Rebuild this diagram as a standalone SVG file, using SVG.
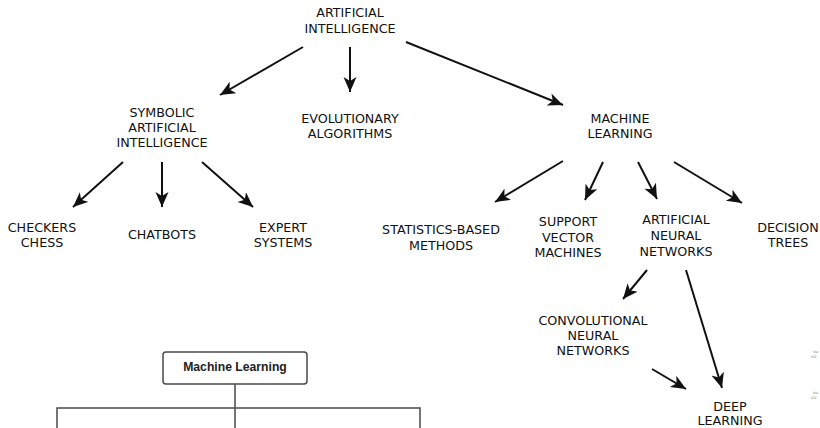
<svg xmlns="http://www.w3.org/2000/svg" width="820" height="428" viewBox="0 0 820 428">
  <style>
    .lbl { font-family: "DejaVu Sans", "Liberation Sans", sans-serif; font-size: 12.7px; fill: #111; text-anchor: middle; }
    .edge { stroke: #111; stroke-width: 2; fill: none; marker-end: url(#head); }
    .box { fill: #fff; stroke: #4a4a4a; stroke-width: 1.5; }
    .tree { stroke: #4a4a4a; stroke-width: 1.5; fill: none; }
    .boxtxt { font-family: "Liberation Sans", Arial, sans-serif; font-size: 12.2px; font-weight: bold; fill: #222; text-anchor: middle; }
    .tiny { font-family: "DejaVu Sans", sans-serif; font-size: 4px; fill: #888; }
  </style>
  <defs>
    <marker id="head" markerUnits="userSpaceOnUse" markerWidth="16" markerHeight="14" refX="15" refY="6.5" orient="auto">
      <path d="M0,0 L15,6.5 L0,13 L4,6.5 z" fill="#111"/>
    </marker>
  </defs>
  <rect width="820" height="428" fill="#fff"/>

  <g id="connectors">
    <line class="edge" x1="303" y1="47" x2="220" y2="95"/>
    <line class="edge" x1="350" y1="47" x2="350" y2="92"/>
    <line class="edge" x1="406" y1="42" x2="563" y2="105"/>
    <line class="edge" x1="123" y1="162" x2="73" y2="207"/>
    <line class="edge" x1="162" y1="162" x2="162" y2="207"/>
    <line class="edge" x1="202" y1="162" x2="253" y2="207"/>
    <line class="edge" x1="563" y1="161" x2="495" y2="202"/>
    <line class="edge" x1="603" y1="162" x2="585" y2="200"/>
    <line class="edge" x1="638" y1="162" x2="657" y2="199"/>
    <line class="edge" x1="674" y1="162" x2="742" y2="203"/>
    <line class="edge" x1="647" y1="270" x2="623" y2="299"/>
    <line class="edge" x1="686" y1="270" x2="722" y2="388"/>
    <line class="edge" x1="652" y1="369" x2="686" y2="389"/>
  </g>

  <g id="ai"><text class="lbl" x="350" y="17">ARTIFICIAL</text><text class="lbl" x="350" y="33">INTELLIGENCE</text></g>
  <g id="symbolic"><text class="lbl" x="162" y="117">SYMBOLIC</text><text class="lbl" x="162" y="132">ARTIFICIAL</text><text class="lbl" x="162" y="147">INTELLIGENCE</text></g>
  <g id="evolutionary"><text class="lbl" x="350" y="123">EVOLUTIONARY</text><text class="lbl" x="350" y="138">ALGORITHMS</text></g>
  <g id="ml"><text class="lbl" x="620" y="123">MACHINE</text><text class="lbl" x="620" y="138">LEARNING</text></g>
  <g id="checkers"><text class="lbl" x="42" y="232">CHECKERS</text><text class="lbl" x="42" y="247">CHESS</text></g>
  <g id="chatbots"><text class="lbl" x="162" y="239">CHATBOTS</text></g>
  <g id="expert"><text class="lbl" x="283" y="232">EXPERT</text><text class="lbl" x="283" y="247">SYSTEMS</text></g>
  <g id="stats"><text class="lbl" x="441" y="234">STATISTICS-BASED</text><text class="lbl" x="441" y="250">METHODS</text></g>
  <g id="svm"><text class="lbl" x="568" y="226">SUPPORT</text><text class="lbl" x="568" y="242">VECTOR</text><text class="lbl" x="568" y="257">MACHINES</text></g>
  <g id="ann"><text class="lbl" x="676" y="224">ARTIFICIAL</text><text class="lbl" x="676" y="240">NEURAL</text><text class="lbl" x="676" y="256">NETWORKS</text></g>
  <g id="trees"><text class="lbl" x="788" y="232">DECISION</text><text class="lbl" x="788" y="247">TREES</text></g>
  <g id="cnn"><text class="lbl" x="593" y="325">CONVOLUTIONAL</text><text class="lbl" x="593" y="340">NEURAL</text><text class="lbl" x="593" y="355">NETWORKS</text></g>
  <g id="deep"><text class="lbl" x="730" y="411">DEEP</text><text class="lbl" x="730" y="425">LEARNING</text></g>

  <g id="ml-box">
    <path class="tree" d="M235,384 V428 M57,428 V408 H420 V428"/>
    <rect class="box" x="163" y="352" width="144" height="32" rx="3"/>
    <text class="boxtxt" x="235" y="371">Machine Learning</text>
  </g>

  <g id="side-notes">
    <text class="tiny" x="813" y="353">ou</text><text class="tiny" x="811" y="358">siz</text>
    <text class="tiny" x="813" y="394">ou</text><text class="tiny" x="811" y="399">siz</text>
  </g>
</svg>
